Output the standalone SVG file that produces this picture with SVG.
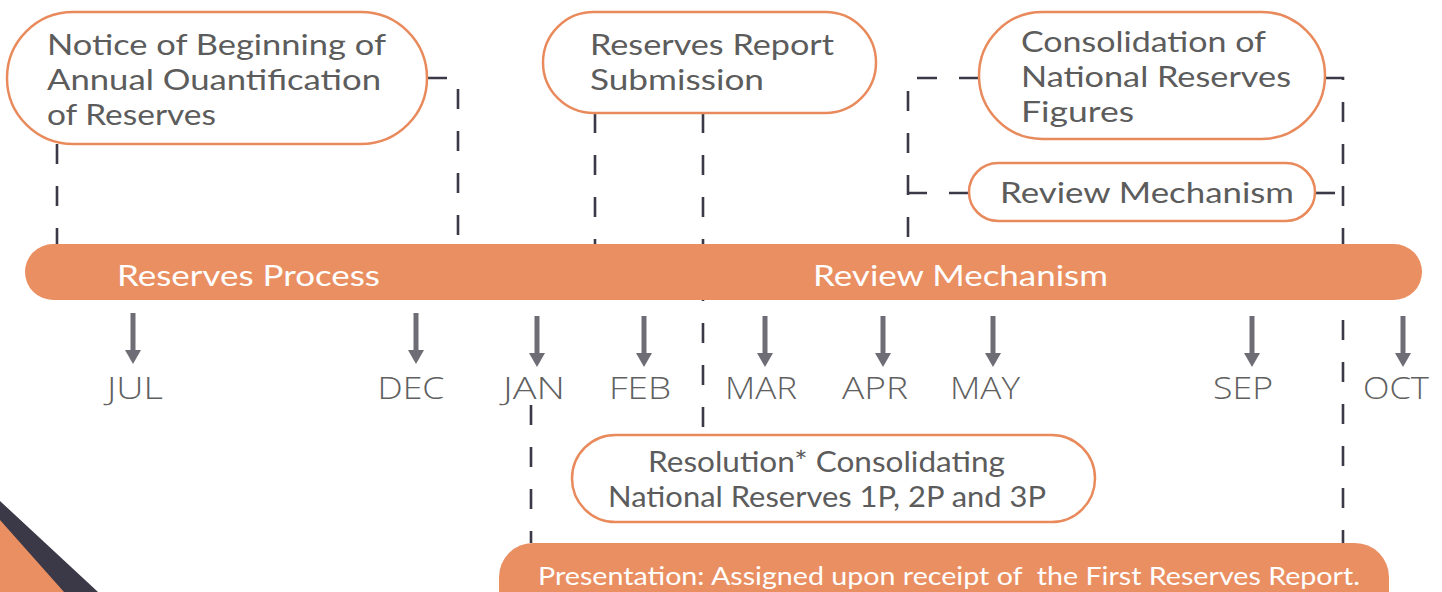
<svg xmlns="http://www.w3.org/2000/svg" width="1442" height="592" viewBox="0 0 1442 592">
<style>
.pill{fill:#fff;stroke:#E98A5C;stroke-width:2.5}
.bar{fill:#EA8F62}
.nt{font-family:Lato,"Open Sans","Liberation Sans",sans-serif;font-size:28px;fill:#5c5c5c;font-weight:400}
.wt{font-family:Lato,"Open Sans","Liberation Sans",sans-serif;fill:#fff;font-weight:400}
.mt{font-family:"Open Sans","Liberation Sans",sans-serif;font-size:31px;fill:#606060;font-weight:300;text-anchor:middle}
.dash{fill:none;stroke:#3B3847;stroke-width:2.6;stroke-dasharray:20 22}
.arr{stroke:#6E6D75;stroke-width:5;fill:none}
</style>
<defs>
<marker id="ah" markerUnits="userSpaceOnUse" markerWidth="14" markerHeight="16" viewBox="0 -8 14 16" refX="0" refY="0" orient="auto">
<path d="M0,-8 L14,0 L0,8 z" fill="#6E6D75"/>
</marker>
</defs>
<g id="decoration">
<polygon points="0,501 98,592 0,592" fill="#3B3847"/>
<polygon points="0,520 64,592 0,592" fill="#EA8F62"/>
</g>
<g id="connectors">
<path class="dash" d="M57,144 V244"/>
<path class="dash" d="M427,78 H458 V244"/>
<path class="dash" d="M595,113 V244"/>
<path class="dash" d="M703,113 V435"/>
<path class="dash" d="M979,78 H908 V244"/>
<path class="dash" d="M969,193 H908"/>
<path class="dash" d="M1325,78 H1343 V244"/>
<path class="dash" d="M1315,193 H1343"/>
<path class="dash" d="M1343,320 V543"/>
<path class="dash" d="M531,405 V543"/>
<line class="arr" x1="133" y1="313" x2="133" y2="350" marker-end="url(#ah)"/>
<line class="arr" x1="416" y1="313" x2="416" y2="350" marker-end="url(#ah)"/>
<line class="arr" x1="537" y1="316" x2="537" y2="353" marker-end="url(#ah)"/>
<line class="arr" x1="644" y1="316" x2="644" y2="353" marker-end="url(#ah)"/>
<line class="arr" x1="765" y1="316" x2="765" y2="353" marker-end="url(#ah)"/>
<line class="arr" x1="883" y1="316" x2="883" y2="353" marker-end="url(#ah)"/>
<line class="arr" x1="993" y1="316" x2="993" y2="353" marker-end="url(#ah)"/>
<line class="arr" x1="1252" y1="316" x2="1252" y2="353" marker-end="url(#ah)"/>
<line class="arr" x1="1403" y1="316" x2="1403" y2="353" marker-end="url(#ah)"/>
</g>
<g id="timeline-bar">
<rect class="bar" x="25" y="244" width="1397" height="56" rx="28"/>
<text class="wt" x="117" y="286" font-size="29" textLength="263" lengthAdjust="spacingAndGlyphs">Reserves Process</text>
<text class="wt" x="813" y="286" font-size="29" textLength="295" lengthAdjust="spacingAndGlyphs">Review Mechanism</text>
</g>
<g id="node-notice">
<rect class="pill" x="7" y="12" width="420" height="132" rx="66"/>
<text class="nt" x="47" y="55" textLength="339" lengthAdjust="spacingAndGlyphs">Notice of Beginning of</text>
<text class="nt" x="47" y="90" textLength="334" lengthAdjust="spacingAndGlyphs">Annual Ouantification</text>
<text class="nt" x="47" y="125" textLength="169" lengthAdjust="spacingAndGlyphs">of Reserves</text>
</g>
<g id="node-report">
<rect class="pill" x="543" y="12" width="333" height="101" rx="50.5"/>
<text class="nt" x="590" y="55" textLength="244" lengthAdjust="spacingAndGlyphs">Reserves Report</text>
<text class="nt" x="590" y="90" textLength="174" lengthAdjust="spacingAndGlyphs">Submission</text>
</g>
<g id="node-consolidation">
<rect class="pill" x="979" y="12" width="346" height="127" rx="63.5"/>
<text class="nt" x="1021" y="52" textLength="245" lengthAdjust="spacingAndGlyphs">Consolidation of</text>
<text class="nt" x="1021" y="87" textLength="270" lengthAdjust="spacingAndGlyphs">National Reserves</text>
<text class="nt" x="1021" y="122" textLength="113" lengthAdjust="spacingAndGlyphs">Figures</text>
</g>
<g id="node-review">
<rect class="pill" x="969" y="163" width="346" height="58" rx="29"/>
<text class="nt" x="1000" y="203" font-size="29" textLength="294" lengthAdjust="spacingAndGlyphs">Review Mechanism</text>
</g>
<g id="months">
<text class="mt" x="135" y="399" textLength="56" lengthAdjust="spacingAndGlyphs">JUL</text>
<text class="mt" x="411" y="399" textLength="67" lengthAdjust="spacingAndGlyphs">DEC</text>
<text class="mt" x="534" y="399" textLength="62" lengthAdjust="spacingAndGlyphs">JAN</text>
<text class="mt" x="640" y="399" textLength="62" lengthAdjust="spacingAndGlyphs">FEB</text>
<text class="mt" x="761" y="399" textLength="72" lengthAdjust="spacingAndGlyphs">MAR</text>
<text class="mt" x="875" y="399" textLength="66" lengthAdjust="spacingAndGlyphs">APR</text>
<text class="mt" x="985" y="399" textLength="70" lengthAdjust="spacingAndGlyphs">MAY</text>
<text class="mt" x="1243" y="399" textLength="60" lengthAdjust="spacingAndGlyphs">SEP</text>
<text class="mt" x="1396" y="399" textLength="66" lengthAdjust="spacingAndGlyphs">OCT</text>
</g>
<g id="node-resolution">
<rect class="pill" x="572" y="435" width="523" height="87" rx="43.5"/>
<text class="nt" x="648" y="472" font-size="27" textLength="357" lengthAdjust="spacingAndGlyphs">Resolution* Consolidating</text>
<text class="nt" x="608" y="507" font-size="27" textLength="438" lengthAdjust="spacingAndGlyphs">National Reserves 1P, 2P and 3P</text>
</g>
<g id="node-presentation">
<rect class="bar" x="499" y="543" width="890" height="90" rx="34"/>
<text class="wt" x="538" y="585" font-size="25" textLength="822" lengthAdjust="spacingAndGlyphs" xml:space="preserve">Presentation: Assigned upon receipt of  the First Reserves Report.</text>
</g>
</svg>
